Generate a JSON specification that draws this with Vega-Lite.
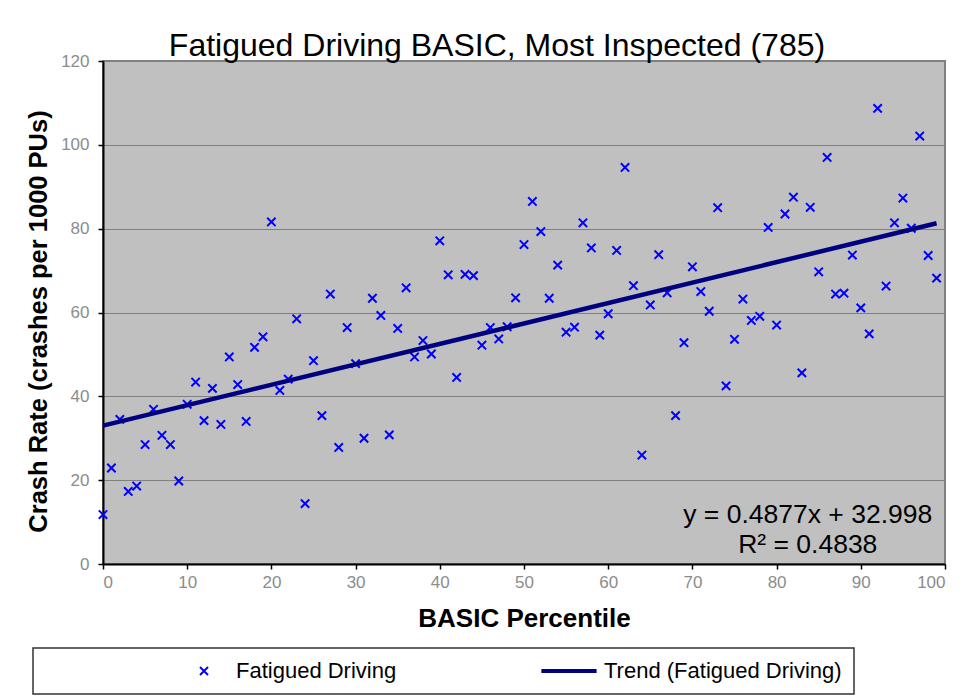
{
  "$schema": "https://vega.github.io/schema/vega-lite/v6.json",
  "width": 842,
  "height": 503,
  "autosize": {"type": "none"},
  "padding": {"left": 103, "top": 61, "right": 31, "bottom": 134},
  "background": "white",
  "title": {
    "text": "Fatigued Driving BASIC, Most Inspected (785)",
    "font": "Liberation Sans",
    "fontSize": 32,
    "fontWeight": "normal",
    "color": "black",
    "anchor": "middle",
    "dx": -27,
    "dy": 38,
    "offset": 2,
    "baseline": "alphabetic"
  },
  "config": {
    "view": {"fill": "#C0C0C0", "stroke": "#808080", "strokeWidth": 2},
    "font": "Liberation Sans",
    "axis": {
      "domainColor": "#000000",
      "domainWidth": 2,
      "tickColor": "#000000",
      "tickWidth": 1.5,
      "tickSize": 5,
      "labelColor": "#8c8c8c",
      "labelFontSize": 17,
      "labelFont": "Liberation Sans",
      "titleFont": "Liberation Sans",
      "titleFontWeight": "bold",
      "titleColor": "black"
    },
    "legend": {
      "orient": "none",
      "legendX": -70,
      "legendY": 587,
      "direction": "horizontal",
      "strokeColor": "#333333",
      "strokeWidth": 1.5,
      "fillColor": "white",
      "padding": 12,
      "labelFont": "Liberation Sans",
      "labelFontSize": 22,
      "labelColor": "black",
      "labelOffset": 21,
      "labelLimit": 400,
      "symbolSize": 64,
      "symbolStrokeWidth": 2,
      "columnPadding": 140,
      "titleOrient": "left",
      "titlePadding": 148,
      "titleFontSize": 10
    }
  },
  "layer": [
    {
      "data": {
        "values": [
          {"percentile": 0, "rate": 11.8, "series": "Fatigued Driving"},
          {"percentile": 1, "rate": 22.9, "series": "Fatigued Driving"},
          {"percentile": 2, "rate": 34.5, "series": "Fatigued Driving"},
          {"percentile": 3, "rate": 17.3, "series": "Fatigued Driving"},
          {"percentile": 4, "rate": 18.6, "series": "Fatigued Driving"},
          {"percentile": 5, "rate": 28.5, "series": "Fatigued Driving"},
          {"percentile": 6, "rate": 36.9, "series": "Fatigued Driving"},
          {"percentile": 7, "rate": 30.7, "series": "Fatigued Driving"},
          {"percentile": 8, "rate": 28.5, "series": "Fatigued Driving"},
          {"percentile": 9, "rate": 19.8, "series": "Fatigued Driving"},
          {"percentile": 10, "rate": 38.1, "series": "Fatigued Driving"},
          {"percentile": 11, "rate": 43.4, "series": "Fatigued Driving"},
          {"percentile": 12, "rate": 34.2, "series": "Fatigued Driving"},
          {"percentile": 13, "rate": 41.9, "series": "Fatigued Driving"},
          {"percentile": 14, "rate": 33.3, "series": "Fatigued Driving"},
          {"percentile": 15, "rate": 49.4, "series": "Fatigued Driving"},
          {"percentile": 16, "rate": 42.8, "series": "Fatigued Driving"},
          {"percentile": 17, "rate": 34.0, "series": "Fatigued Driving"},
          {"percentile": 18, "rate": 51.7, "series": "Fatigued Driving"},
          {"percentile": 19, "rate": 54.2, "series": "Fatigued Driving"},
          {"percentile": 20, "rate": 81.6, "series": "Fatigued Driving"},
          {"percentile": 21, "rate": 41.4, "series": "Fatigued Driving"},
          {"percentile": 22, "rate": 44.1, "series": "Fatigued Driving"},
          {"percentile": 23, "rate": 58.5, "series": "Fatigued Driving"},
          {"percentile": 24, "rate": 14.4, "series": "Fatigued Driving"},
          {"percentile": 25, "rate": 48.5, "series": "Fatigued Driving"},
          {"percentile": 26, "rate": 35.4, "series": "Fatigued Driving"},
          {"percentile": 27, "rate": 64.4, "series": "Fatigued Driving"},
          {"percentile": 28, "rate": 27.8, "series": "Fatigued Driving"},
          {"percentile": 29, "rate": 56.4, "series": "Fatigued Driving"},
          {"percentile": 30, "rate": 47.8, "series": "Fatigued Driving"},
          {"percentile": 31, "rate": 30.0, "series": "Fatigued Driving"},
          {"percentile": 32, "rate": 63.4, "series": "Fatigued Driving"},
          {"percentile": 33, "rate": 59.3, "series": "Fatigued Driving"},
          {"percentile": 34, "rate": 30.8, "series": "Fatigued Driving"},
          {"percentile": 35, "rate": 56.2, "series": "Fatigued Driving"},
          {"percentile": 36, "rate": 65.9, "series": "Fatigued Driving"},
          {"percentile": 37, "rate": 49.4, "series": "Fatigued Driving"},
          {"percentile": 38, "rate": 53.3, "series": "Fatigued Driving"},
          {"percentile": 39, "rate": 50.1, "series": "Fatigued Driving"},
          {"percentile": 40, "rate": 77.1, "series": "Fatigued Driving"},
          {"percentile": 41, "rate": 69.0, "series": "Fatigued Driving"},
          {"percentile": 42, "rate": 44.5, "series": "Fatigued Driving"},
          {"percentile": 43, "rate": 69.1, "series": "Fatigued Driving"},
          {"percentile": 44, "rate": 68.8, "series": "Fatigued Driving"},
          {"percentile": 45, "rate": 52.2, "series": "Fatigued Driving"},
          {"percentile": 46, "rate": 56.4, "series": "Fatigued Driving"},
          {"percentile": 47, "rate": 53.7, "series": "Fatigued Driving"},
          {"percentile": 48, "rate": 56.6, "series": "Fatigued Driving"},
          {"percentile": 49, "rate": 63.5, "series": "Fatigued Driving"},
          {"percentile": 50, "rate": 76.2, "series": "Fatigued Driving"},
          {"percentile": 51, "rate": 86.5, "series": "Fatigued Driving"},
          {"percentile": 52, "rate": 79.3, "series": "Fatigued Driving"},
          {"percentile": 53, "rate": 63.4, "series": "Fatigued Driving"},
          {"percentile": 54, "rate": 71.3, "series": "Fatigued Driving"},
          {"percentile": 55, "rate": 55.3, "series": "Fatigued Driving"},
          {"percentile": 56, "rate": 56.5, "series": "Fatigued Driving"},
          {"percentile": 57, "rate": 81.4, "series": "Fatigued Driving"},
          {"percentile": 58, "rate": 75.4, "series": "Fatigued Driving"},
          {"percentile": 59, "rate": 54.6, "series": "Fatigued Driving"},
          {"percentile": 60, "rate": 59.7, "series": "Fatigued Driving"},
          {"percentile": 61, "rate": 74.8, "series": "Fatigued Driving"},
          {"percentile": 62, "rate": 94.6, "series": "Fatigued Driving"},
          {"percentile": 63, "rate": 66.4, "series": "Fatigued Driving"},
          {"percentile": 64, "rate": 26.0, "series": "Fatigued Driving"},
          {"percentile": 65, "rate": 61.8, "series": "Fatigued Driving"},
          {"percentile": 66, "rate": 73.8, "series": "Fatigued Driving"},
          {"percentile": 67, "rate": 64.7, "series": "Fatigued Driving"},
          {"percentile": 68, "rate": 35.4, "series": "Fatigued Driving"},
          {"percentile": 69, "rate": 52.8, "series": "Fatigued Driving"},
          {"percentile": 70, "rate": 70.9, "series": "Fatigued Driving"},
          {"percentile": 71, "rate": 65.0, "series": "Fatigued Driving"},
          {"percentile": 72, "rate": 60.3, "series": "Fatigued Driving"},
          {"percentile": 73, "rate": 85.0, "series": "Fatigued Driving"},
          {"percentile": 74, "rate": 42.5, "series": "Fatigued Driving"},
          {"percentile": 75, "rate": 53.6, "series": "Fatigued Driving"},
          {"percentile": 76, "rate": 63.2, "series": "Fatigued Driving"},
          {"percentile": 77, "rate": 58.1, "series": "Fatigued Driving"},
          {"percentile": 78, "rate": 59.1, "series": "Fatigued Driving"},
          {"percentile": 79, "rate": 80.3, "series": "Fatigued Driving"},
          {"percentile": 80, "rate": 57.0, "series": "Fatigued Driving"},
          {"percentile": 81, "rate": 83.5, "series": "Fatigued Driving"},
          {"percentile": 82, "rate": 87.5, "series": "Fatigued Driving"},
          {"percentile": 83, "rate": 45.6, "series": "Fatigued Driving"},
          {"percentile": 84, "rate": 85.1, "series": "Fatigued Driving"},
          {"percentile": 85, "rate": 69.7, "series": "Fatigued Driving"},
          {"percentile": 86, "rate": 97.0, "series": "Fatigued Driving"},
          {"percentile": 87, "rate": 64.4, "series": "Fatigued Driving"},
          {"percentile": 88, "rate": 64.6, "series": "Fatigued Driving"},
          {"percentile": 89, "rate": 73.7, "series": "Fatigued Driving"},
          {"percentile": 90, "rate": 61.1, "series": "Fatigued Driving"},
          {"percentile": 91, "rate": 54.9, "series": "Fatigued Driving"},
          {"percentile": 92, "rate": 108.7, "series": "Fatigued Driving"},
          {"percentile": 93, "rate": 66.3, "series": "Fatigued Driving"},
          {"percentile": 94, "rate": 81.4, "series": "Fatigued Driving"},
          {"percentile": 95, "rate": 87.3, "series": "Fatigued Driving"},
          {"percentile": 96, "rate": 80.1, "series": "Fatigued Driving"},
          {"percentile": 97, "rate": 102.1, "series": "Fatigued Driving"},
          {"percentile": 98, "rate": 73.6, "series": "Fatigued Driving"},
          {"percentile": 99, "rate": 68.2, "series": "Fatigued Driving"}
        ]
      },
      "mark": {"type": "point", "filled": false, "size": 70, "strokeWidth": 2, "opacity": 1},
      "encoding": {
        "x": {
          "field": "percentile",
          "type": "quantitative",
          "title": "BASIC Percentile",
          "scale": {"domain": [0, 100], "nice": false, "zero": false},
          "axis": {"values": [0, 10, 20, 30, 40, 50, 60, 70, 80, 90, 100], "grid": false, "labelPadding": 5, "titlePadding": 15, "titleFontSize": 26}
        },
        "y": {
          "field": "rate",
          "type": "quantitative",
          "title": "Crash Rate (crashes per 1000 PUs)",
          "scale": {"domain": [0, 120], "nice": false},
          "axis": {
            "values": [0, 20, 40, 60, 80, 100, 120],
            "grid": true,
            "gridColor": "#808080",
            "gridWidth": 1,
            "labelPadding": 9,
            "titleFontSize": 25.5,
            "titleAngle": -90,
            "titleAlign": "center",
            "titleBaseline": "middle",
            "titleX": -65,
            "titleY": 260
          }
        },
        "color": {
          "field": "series",
          "type": "nominal",
          "title": "\u00a0",
          "scale": {"domain": ["Fatigued Driving", "Trend (Fatigued Driving)"], "range": ["#0000FF", "#000080"]}
        },
        "shape": {
          "field": "series",
          "type": "nominal",
          "title": "\u00a0",
          "scale": {"domain": ["Fatigued Driving", "Trend (Fatigued Driving)"], "range": ["M-1,-1L1,1M-1,1L1,-1", "M-7.65,-0.25H6.15M-7.65,0H6.15M-7.65,0.25H6.15"]}
        }
      }
    },
    {
      "data": {
        "values": [
          {"percentile": 0, "rate": 32.998, "series": "Trend (Fatigued Driving)"},
          {"percentile": 99, "rate": 81.28, "series": "Trend (Fatigued Driving)"}
        ]
      },
      "mark": {"type": "line", "strokeWidth": 4.5},
      "encoding": {
        "x": {"field": "percentile", "type": "quantitative"},
        "y": {"field": "rate", "type": "quantitative"},
        "color": {"field": "series", "type": "nominal"}
      }
    },
    {
      "data": {"values": [{}]},
      "mark": {
        "type": "text",
        "text": ["y = 0.4877x + 32.998", "R² = 0.4838"],
        "font": "Liberation Sans",
        "fontSize": 26.5,
        "lineHeight": 30,
        "align": "center",
        "baseline": "alphabetic",
        "color": "black"
      },
      "encoding": {
        "x": {"datum": 83.7},
        "y": {"datum": 9.8}
      }
    }
  ]
}
